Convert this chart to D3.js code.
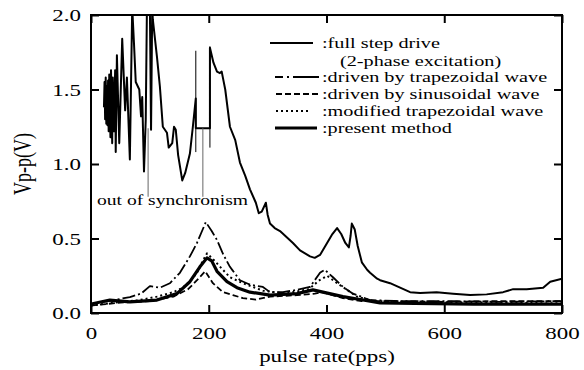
<!DOCTYPE html>
<html lang="en">
<head>
<meta charset="UTF-8">
<title>Vp-p vs pulse rate</title>
<script src="https://cdn.jsdelivr.net/npm/d3@7"></script>
<style>
    body{ margin:0; background:#fff; }
    svg text{ font-family:"Liberation Serif","DejaVu Serif",serif !important; fill:#000; }
</style>
</head>
<body>
<svg id="main" width="584" height="370"></svg>
<script>
    // ticks
    const xTicks = [0, 200, 400, 600, 800];
    const yTicks = [0, 0.5, 1.0, 1.5, 2.0];

    // full step drive (2-phase excitation), [pps, V]
    const fullStep = [
        [22,1.38],[23,1.55],[24,1.30],[25,1.58],[26,1.27],[27,1.52],[28,1.26],[29,1.56],[30,1.22],
        [31,1.60],[33,1.18],[34,1.63],[36,1.14],[37,1.58],[39,1.22],[41,1.63],[42,1.08],[44,1.73],
        [48,1.14],[53,1.84],[58,1.36],[61,1.58],[66,1.03],[70,2.05],[73,1.81],[76,1.55],[82,1.50],
        [85,1.32],[87,1.45],[90,0.95],[93,1.30],[95,2.05],[100,2.05],[102,1.23],[104,2.05],[105,1.97],
        [112,1.72],[117,1.52],[122,1.25],[129,1.21],[132,1.11],[138,1.14],[141,1.25],[144,1.23],
        [148,1.06],[155,0.89],[160,0.94],[168,1.07],[173,1.25],[178,1.44],[178,1.24],[202,1.24],
        [202,1.78],[208,1.68],[214,1.62],[219,1.61],[222,1.62],[224,1.58],[228,1.50],[236,1.25],
        [245,1.16],[253,1.01],[262,0.92],[270,0.83],[280,0.74],[285,0.67],[290,0.68],[297,0.74],
        [300,0.66],[304,0.60],[312,0.57],[321,0.55],[332,0.51],[343,0.47],[355,0.42],[372,0.38],
        [380,0.37],[389,0.39],[401,0.47],[410,0.53],[418,0.57],[425,0.53],[432,0.47],[438,0.44],
        [441,0.52],[443,0.60],[448,0.56],[453,0.45],[460,0.34],[469,0.29],[474,0.27],[486,0.23],
        [491,0.22],[508,0.20],[525,0.17],[542,0.14],[559,0.135],[587,0.14],[615,0.13],[644,0.12],
        [672,0.125],[700,0.14],[717,0.16],[740,0.16],[768,0.17],[780,0.21],[800,0.23]
    ];
    // driven by trapezoidal wave
    const trapezoidal = [
        [0,0.06],[30,0.08],[66,0.107],[85,0.13],[100,0.18],[117,0.17],[134,0.20],[151,0.27],
        [168,0.38],[180,0.47],[195,0.61],[205,0.55],[214,0.49],[225,0.39],[236,0.31],[253,0.22],
        [270,0.19],[292,0.175],[304,0.14],[326,0.14],[350,0.155],[372,0.175],[389,0.27],[397,0.29],
        [411,0.24],[428,0.175],[445,0.13],[474,0.087],[520,0.08],[600,0.08],[700,0.075],[800,0.08]
    ];
    // driven by sinusoidal wave
    const sinusoidal = [
        [0,0.05],[50,0.07],[100,0.08],[140,0.11],[165,0.16],[180,0.22],[194,0.28],[207,0.20],
        [224,0.14],[241,0.12],[258,0.10],[280,0.09],[304,0.11],[350,0.12],[380,0.13],[394,0.14],
        [410,0.12],[428,0.10],[460,0.08],[520,0.08],[600,0.075],[700,0.08],[800,0.08]
    ];
    // modified trapezoidal wave
    const modified = [
        [0,0.05],[40,0.07],[80,0.085],[112,0.11],[140,0.14],[156,0.17],[170,0.22],[180,0.27],
        [190,0.35],[197,0.40],[210,0.35],[224,0.29],[236,0.24],[258,0.20],[292,0.15],[330,0.13],
        [370,0.16],[388,0.22],[401,0.25],[418,0.20],[435,0.155],[452,0.11],[480,0.08],[560,0.07],
        [650,0.07],[800,0.065]
    ];
    // present method
    const present = [
        [0,0.06],[32,0.087],[66,0.075],[112,0.087],[146,0.13],[168,0.21],[185,0.31],[197,0.37],
        [205,0.35],[214,0.28],[231,0.21],[248,0.17],[270,0.14],[304,0.12],[350,0.13],[377,0.155],
        [394,0.14],[428,0.11],[462,0.087],[491,0.067],[550,0.065],[650,0.06],[800,0.06]
    ];
    // out-of-synchronism range bars [pps, low, high]
    const syncBars = [[178,1.08,1.76],[202,1.11,1.79]];
    // annotation pointers [pps, from, to]
    const pointers = [[97,1.24,0.78],[190,1.24,0.78]];

    const series = [
        {data: fullStep,    label: ':full step drive', width: 2,   dash: null},
        {data: trapezoidal, label: ':driven by trapezoidal wave', width: 1.8, dash: '3,3,2,3,10,0'},
        {data: sinusoidal,  label: ':driven by sinusoidal wave',  width: 1.8, dash: '6,3'},
        {data: modified,    label: ':modified trapezoidal wave',  width: 2,   dash: '2,3'},
        {data: present,     label: ':present method',             width: 3.2, dash: null}
    ];

    const FONT = '"Liberation Serif", "DejaVu Serif", serif';
    const SX = 1.35; // horizontal stretch of the lettering
    const svg = d3.select('svg#main');
    const x = d3.scaleLinear().domain([0, 800]).range([91, 562]);
    const y = d3.scaleLinear().domain([0, 2]).range([313, 15]);

    svg.append('clipPath').attr('id', 'plot')
        .append('rect').attr('x', 91).attr('y', 15).attr('width', 471).attr('height', 298);

    const line = d3.line().x(d => x(d[0])).y(d => y(d[1]));

    const curves = svg.append('g').attr('clip-path', 'url(#plot)');
    curves.selectAll('path.s')
        .data(series)
        .enter()
        .append('path')
        .attr('fill', 'none')
        .attr('stroke', '#000')
        .attr('stroke-width', d => d.width)
        .attr('stroke-dasharray', d => d.dash)
        .attr('stroke-linejoin', 'round')
        .attr('d', d => line(d.data));

    curves.selectAll('line.bar')
        .data(syncBars)
        .enter()
        .append('line')
        .attr('x1', d => x(d[0])).attr('x2', d => x(d[0]))
        .attr('y1', d => y(d[1])).attr('y2', d => y(d[2]))
        .attr('stroke', '#000').attr('stroke-width', 1);

    svg.selectAll('line.ptr')
        .data(pointers)
        .enter()
        .append('line')
        .attr('x1', d => x(d[0])).attr('x2', d => x(d[0]))
        .attr('y1', d => y(d[1])).attr('y2', d => y(d[2]))
        .attr('stroke', '#666').attr('stroke-width', 1);

    svg.append('text')
        .attr('transform', `translate(97,205) scale(${SX},1)`)
        .attr('font-family', FONT)
        .style('font-size', '14.5px')
        .text('out of synchronism');

    // axes, ticks inward on all four sides
    function styleAxis(g){
        g.attr('font-family', FONT);
        g.select('.domain').remove();
        g.selectAll('line').attr('stroke-width', 2);
    }
    svg.append('g').attr('transform', 'translate(0,313)')
        .call(d3.axisBottom(x).tickValues(xTicks).tickSizeInner(-8).tickSizeOuter(0).tickFormat(d3.format('d')))
        .call(styleAxis)
        .call(g => g.selectAll('text')
            .attr('y', 26).attr('dy', 0)
            .attr('transform', `scale(${SX},1)`)
            .style('font-size', '17px'));
    svg.append('g').attr('transform', 'translate(0,15)')
        .call(d3.axisTop(x).tickValues(xTicks).tickSizeInner(-8).tickSizeOuter(0).tickFormat(''))
        .call(styleAxis);
    svg.append('g').attr('transform', 'translate(91,0)')
        .call(d3.axisLeft(y).tickValues(yTicks).tickSizeInner(-8).tickSizeOuter(0).tickFormat(d3.format('.1f')))
        .call(styleAxis)
        .call(g => g.selectAll('text')
            .attr('x', -7.5).attr('dy', '0.34em')
            .attr('transform', `scale(${SX},1)`)
            .style('font-size', '17px'));
    svg.append('g').attr('transform', 'translate(562,0)')
        .call(d3.axisRight(y).tickValues(yTicks).tickSizeInner(-8).tickSizeOuter(0).tickFormat(''))
        .call(styleAxis);

    svg.append('rect')
        .attr('x', 91).attr('y', 15).attr('width', 471).attr('height', 298)
        .attr('fill', 'none').attr('stroke', '#000').attr('stroke-width', 2);

    svg.append('text')
        .attr('transform', `translate(327,362) scale(${SX},1)`)
        .attr('text-anchor', 'middle')
        .attr('font-family', FONT)
        .style('font-size', '17px')
        .text('pulse rate(pps)');
    svg.append('text')
        .attr('transform', `translate(31,164) rotate(-90) scale(1,${SX})`)
        .attr('text-anchor', 'middle')
        .attr('font-family', FONT)
        .style('font-size', '18px')
        .text('Vp-p(V)');

    // legend
    const rowY = [43, 77, 94, 111, 128];
    const sampleX = [[270,313],[275,319],[276,319],[276,311],[275,317]];
    const legend = svg.append('g').attr('font-family', FONT);
    legend.selectAll('line.key')
        .data(series)
        .enter()
        .append('line')
        .attr('x1', (d, i) => sampleX[i][0]).attr('x2', (d, i) => sampleX[i][1])
        .attr('y1', (d, i) => rowY[i]).attr('y2', (d, i) => rowY[i])
        .attr('stroke', '#000')
        .attr('stroke-width', d => d.width)
        .attr('stroke-dasharray', (d, i) => i === 1 ? '8,4,2,4,30,0' : d.dash);
    legend.selectAll('text.key')
        .data(series)
        .enter()
        .append('text')
        .attr('transform', (d, i) => `translate(322,${rowY[i] + 5}) scale(${SX},1)`)
        .style('font-size', '15px')
        .text(d => d.label);
    legend.append('text')
        .attr('transform', `translate(340,${61 + 5}) scale(${SX},1)`)
        .style('font-size', '15px')
        .text('(2-phase excitation)');
</script>
</body>
</html>
